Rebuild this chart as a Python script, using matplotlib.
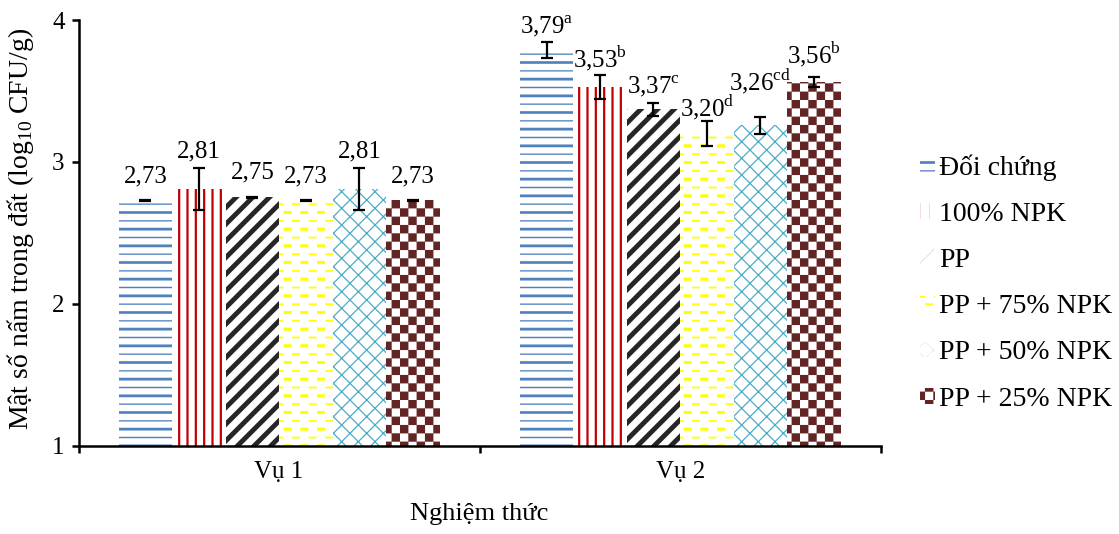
import warnings
import numpy as np
import matplotlib
matplotlib.use('Agg')
import matplotlib.pyplot as plt
import matplotlib.hatch as mhatch
from matplotlib.path import Path

warnings.filterwarnings('ignore')

seasons = ['Vụ 1', 'Vụ 2']
treatments = ['Đối chứng', '100% NPK', 'PP', 'PP + 75% NPK', 'PP + 50% NPK', 'PP + 25% NPK']
vu1 = [2.73, 2.81, 2.75, 2.73, 2.81, 2.73]
vu2 = [3.79, 3.53, 3.37, 3.20, 3.26, 3.56]
err1 = [0.005, 0.15, 0.005, 0.005, 0.15, 0.005]
err2 = [0.055, 0.085, 0.045, 0.09, 0.06, 0.035]
letters1 = ['', '', '', '', '', '']
letters2 = ['a', 'b', 'c', 'd', 'cd', 'b']

# style per treatment
colors = ['#4F81BD', '#C00000', '#262626', '#FFFF00', '#4BACC6', '#632523']
hatches = ['=', '||', '//', '_', 'xx', '#']
hatch_lw = [0.1, 1.6, 3.5, 0.1, 0.9, 0.1]
# label lift above error bar top, in pixels
pad1 = [17, 10, 18, 17, 10, 17]
pad2 = [9, 7, 10, 4, 26, 14]


def rect(x0, x1, y0, y1):
    return [(x0, y0), (x1, y0), (x1, y1), (x0, y1), (x0, y0)]


RCODES = [Path.MOVETO, Path.LINETO, Path.LINETO, Path.LINETO, Path.CLOSEPOLY]


# custom hatches: thick/thin rows (blue), dashed rows (yellow), checkerboard (brown)
class StripeRows(mhatch.HatchPatternBase):
    def __init__(self, hatch, density):
        self.rows = 12 if '=' in hatch else 0
        self.num_vertices = self.rows * 5

    def set_vertices_and_codes(self, vertices, codes):
        for i in range(self.rows):
            y = (i + 0.5) / self.rows
            h = 0.013 if i % 2 == 0 else 0.006
            vertices[i * 5:i * 5 + 5] = rect(0, 1, y - h, y + h)
            codes[i * 5:i * 5 + 5] = RCODES


class DashRows(mhatch.HatchPatternBase):
    def __init__(self, hatch, density):
        self.rows = 12 if '_' in hatch else 0
        self.dashes = 6
        self.num_vertices = self.rows * self.dashes * 5

    def set_vertices_and_codes(self, vertices, codes):
        k = 0
        for i in range(self.rows):
            y = (i + 0.5) / self.rows
            h = 0.015 if i % 2 == 0 else 0.008
            shift = 0.5 / self.dashes if i % 2 else 0.0
            for j in range(self.dashes):
                x0 = j / self.dashes + shift + 0.004
                vertices[k:k + 5] = rect(x0, x0 + 0.078, y - h, y + h)
                codes[k:k + 5] = RCODES
                k += 5


class Checker(mhatch.HatchPatternBase):
    def __init__(self, hatch, density):
        self.n = 12 if '#' in hatch else 0
        self.num_vertices = (self.n * self.n // 2) * 5

    def set_vertices_and_codes(self, vertices, codes):
        s = 1.0 / self.n
        k = 0
        for i in range(self.n):
            for j in range(self.n):
                if (i + j) % 2:
                    continue
                vertices[k:k + 5] = rect(j * s, (j + 1) * s, i * s, (i + 1) * s)
                codes[k:k + 5] = RCODES
                k += 5


mhatch._hatch_types.extend([StripeRows, DashRows, Checker])

plt.rcParams['font.family'] = 'Liberation Serif'
plt.rcParams['mathtext.fontset'] = 'custom'
plt.rcParams['mathtext.rm'] = 'Liberation Serif'

fig = plt.figure(figsize=(11.19, 5.34), dpi=100)
ax = fig.add_axes([0.0702, 0.1654, 0.7169, 0.7971])

x = np.arange(len(seasons))
n = len(treatments)
w = 0.8 / n

handles = []
for i in range(n):
    pos = x - 0.4 + (i + 0.5) * w
    vals = [vu1[i], vu2[i]]
    errs = [err1[i], err2[i]]
    plt.rcParams['hatch.linewidth'] = hatch_lw[i]
    bars = ax.bar(pos, vals, width=w, color='white', edgecolor=colors[i],
                  linewidth=0, hatch=hatches[i], label=treatments[i], zorder=2)
    for p in bars:
        if hasattr(p, 'set_hatch_linewidth'):
            p.set_hatch_linewidth(hatch_lw[i])
    handles.append(bars)
    ax.errorbar(pos, vals, yerr=errs, fmt='none', ecolor='black',
                elinewidth=1.6, capsize=4.5, capthick=1.6, zorder=3)
    lets = [letters1[i], letters2[i]]
    pads = [pad1[i], pad2[i]]
    for xp, v, e, l, pd in zip(pos, vals, errs, lets, pads):
        txt = f'{v:.2f}'.replace('.', ',')
        if l:
            txt += r'$^{\mathregular{' + l + '}}$'
        ax.annotate(txt, xy=(xp, v + e), xytext=(0, pd * 0.72),
                    textcoords='offset points', ha='center', va='baseline',
                    fontsize=18, zorder=4)

ax.set_xlim(-0.5, 1.5)
ax.set_ylim(1, 4)
ax.set_yticks([1, 2, 3, 4])
ax.set_xticks(x)
ax.set_xticklabels(seasons)
ax.set_xticks([-0.5, 0.5, 1.5], minor=True)
ax.tick_params(axis='x', which='major', length=0, pad=11, labelsize=18)
ax.tick_params(axis='x', which='minor', length=5, width=1.8, direction='out')
ax.tick_params(axis='y', length=5, width=1.8, direction='out', pad=5, labelsize=18)

for s in ['top', 'right']:
    ax.spines[s].set_visible(False)
for s in ['left', 'bottom']:
    ax.spines[s].set_linewidth(1.8)

ax.set_xlabel('Nghiệm thức', fontsize=19)
ax.xaxis.set_label_coords(0.499, -0.135)
ax.set_ylabel(r'Mật số nấm trong đất (log$_{\mathregular{10}}$ CFU/g)', fontsize=20)
ax.yaxis.set_label_coords(-0.053, 0.51)

ax.legend(handles, treatments, loc='center left', bbox_to_anchor=(0.822, 0.470),
          bbox_transform=fig.transFigure, frameon=False, fontsize=20,
          handlelength=0.55, handleheight=0.5, handletextpad=0.15,
          labelspacing=0.76, borderpad=0, borderaxespad=0)

fig.savefig('out.png', dpi=100)
